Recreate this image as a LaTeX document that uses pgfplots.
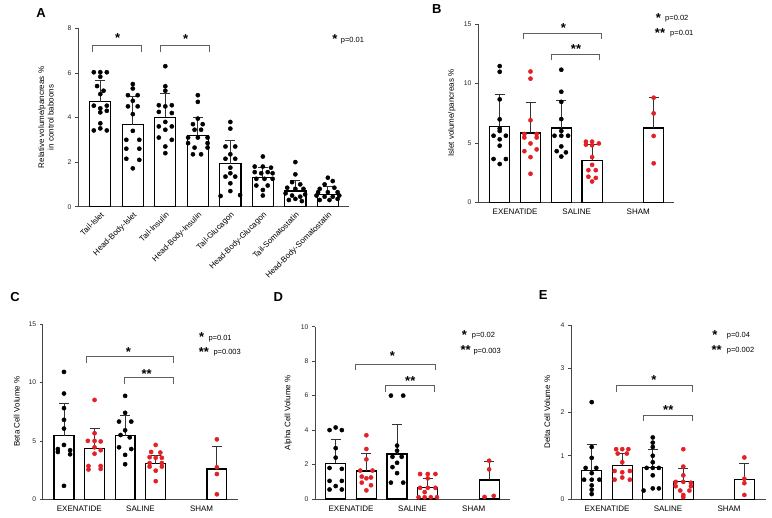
\documentclass[border=0pt]{standalone}
\usepackage{fontspec}
\setmainfont{Liberation Sans}
\usepackage{pgfplots}
\pgfplotsset{compat=1.18}
\definecolor{dotred}{RGB}{226,32,38}
\definecolor{axgray}{RGB}{70,70,70}
\definecolor{brgray}{RGB}{95,95,95}
\pgfplotsset{
  panel/.style={
    scale only axis, clip=false,
    axis lines=left, axis line style={-, line width=0.7pt, draw=axgray},
    ymin=0,
    xtick style={draw=none},
    ytick style={line width=0.7pt, draw=axgray},
    tick align=outside, major tick length=3pt,
    /pgf/number format/assume math mode=true,
    yticklabel style={font=\fontsize{6.8}{7}\selectfont, text=black!85},
    xticklabel style={font=\fontsize{8}{9}\selectfont},
    ylabel style={font=\fontsize{8}{9.5}\selectfont, anchor=center},
  },
  bars/.style={ybar, bar width=0.65, bar shift=0pt, fill=white, draw=black, line width=1.2pt,
    error bars/.cd, y dir=plus, y explicit,
    error bar style={line width=0.8pt, draw=black!80},
    error mark options={line width=0.8pt, mark size=5pt, draw=black!80, rotate=90}},
  bdots/.style={only marks, mark=*, mark size=2.1pt, mark options={fill=black, draw=black}},
  rdots/.style={only marks, mark=*, mark size=2.1pt, mark options={fill=dotred, draw=dotred}},
  grp/.style={xtick={0.5,2.5,4.5}, xticklabels={EXENATIDE,SALINE,SHAM}},
}
\tikzset{
  star/.style={font=\fontsize{13}{13}\selectfont\bfseries, inner sep=0pt, anchor=center, yshift=-2.6pt},
  ptxt/.style={font=\fontsize{7.5}{8}\selectfont, inner sep=0pt, anchor=west},
  brk/.style={draw=brgray, line width=0.7pt},
  letter/.style={font=\fontsize{13}{13}\selectfont\bfseries, inner sep=0pt, anchor=center},
}
\begin{document}
\begin{tikzpicture}[x=1pt,y=1pt]
\path[use as bounding box] (0,0) rectangle (772,518);

% ---------------- Panel A ----------------
\begin{axis}[panel, at={(78pt,311.3pt)}, anchor=south west,
  width=271pt, height=178.4pt, xmin=-0.686, xmax=7.65, ymax=8,
  ytick={0,2,4,6,8}, xtick={0,...,7},
  xticklabels={Tail-Islet,Head-Body-Islet,Tail-Insulin,Head-Body-Insulin,Tail-Glucagon,Head-Body-Glucagon,Tail-Somatostatin,Head-Body-Somatostatin},
  xticklabel style={rotate=45, anchor=north east, inner sep=1pt, font=\fontsize{8}{8}\selectfont},
  ylabel={Relative volume/pancreas \%\\in control baboons},
  ylabel style={align=center, at={(axis description cs:-0.118,0.5)}},
]
\addplot[bars] coordinates {
 (0,4.71) +- (0,0.97)
 (1,3.68) +- (0,1.28)
 (2,4.01) +- (0,1.07)
 (3,3.20) +- (0,0.79)
 (4,1.93) +- (0,1.04)
 (5,1.31) +- (0,0.45)
 (6,0.70) +- (0,0.47)
 (7,0.56) +- (0,0.34)
};
\addplot[bdots] coordinates {
 (-0.2,6.03) (0,6.03) (0.2,6.03) (0,5.83) (-0.1,5.41) (0.1,5.2) (0,5.05) (-0.2,4.53) (0,4.41) (0.2,4.53) (0,4.23) (0.2,4.3) (0,3.74) (0,3.51) (-0.2,3.42) (0.2,3.42)
 (1,5.5) (1,5.3) (0.85,5.0) (1.15,5.0) (1,4.75) (0.85,4.5) (1.15,4.5) (1,4.15) (1,3.4) (0.8,3.0) (1.2,3.0) (0.8,2.6) (1.2,2.6) (0.8,2.15) (1.2,2.1) (1,1.72)
 (2,6.3) (2,5.4) (2,5.2) (1.8,4.55) (2,4.5) (2.2,4.55) (1.8,4.25) (2.2,4.2) (2,3.8) (1.8,3.6) (2.2,3.6) (2,3.45) (1.8,3.1) (2.2,3.0) (2,2.7) (2,2.4)
 (3,5.0) (3,4.7) (3,3.95) (2.85,3.7) (3.15,3.7) (2.9,3.45) (3.1,3.45) (2.7,3.1) (3,3.1) (3.3,3.1) (2.7,2.85) (2.9,2.65) (3.3,2.65) (2.85,2.35) (3.1,2.35) (3.3,2.85)
 (4,3.8) (4,3.5) (3.85,2.7) (4.15,2.7) (4,2.35) (3.85,2.15) (4.15,2.15) (4,1.75) (4,1.5) (3.85,1.35) (4.15,1.35) (4,1.05) (4,0.7) (3.7,0.48) (4.3,0.52)
 (5,2.25) (4.75,1.8) (5,1.8) (5.25,1.75) (4.75,1.55) (4.95,1.5) (5.15,1.55) (5.3,1.5) (4.8,1.25) (5.05,1.25) (5.3,1.25) (4.8,0.95) (5.15,0.95) (5,0.75) (5,0.5)
 (6,2.0) (6,1.45) (5.9,1.1) (6.15,1.0) (5.75,0.85) (6,0.8) (6.25,0.8) (5.7,0.6) (6.3,0.55) (5.9,0.5) (6.15,0.45) (6,0.35) (5.8,0.3) (6.2,0.25)
 (7,1.3) (7.15,1.15) (6.9,1.0) (6.75,0.8) (7.2,0.85) (6.7,0.65) (7,0.65) (7.3,0.65) (6.65,0.5) (6.9,0.45) (7.15,0.45) (7.35,0.5) (6.75,0.3) (7.05,0.3) (7.3,0.35)
};
\end{axis}

% ---------------- Panel B ----------------
\begin{axis}[panel, grp, at={(478pt,315.7pt)}, anchor=south west,
  width=196pt, height=178.3pt, xmin=-0.705, xmax=5.66, ymax=15,
  ytick={0,5,10,15},
  ylabel={Islet volume/pancreas \%},
  ylabel style={at={(axis description cs:-0.134,0.5)}},
]
\addplot[bars] coordinates {
 (0,6.36) +- (0,2.75)
 (1,5.83) +- (0,2.55)
 (2,6.25) +- (0,2.33)
 (3,3.53) +- (0,1.35)
 (5,6.25) +- (0,2.55)
};
\addplot[bdots] coordinates {
 (0,11.46) (0,10.98) (0,8.66) (0,6.98) (0,6.2) (0,6.0) (-0.2,5.6) (0.2,5.6) (0,5.3) (0,4.76) (-0.2,3.64) (0.2,3.64) (0,3.22)
 (2,11.15) (2,9.3) (2,8.45) (2,7.0) (2,6.0) (1.78,5.6) (2,5.6) (2.22,5.6) (2,4.7) (1.85,4.3) (2.15,4.2) (2,3.85)
};
\addplot[rdots] coordinates {
 (1,11.0) (1,10.4) (1,6.9) (0.8,5.75) (1.2,5.75) (0.8,5.45) (1.2,5.45) (1,4.95) (0.8,4.3) (1.2,4.45) (1,3.8) (1,2.4)
 (2.8,5.1) (3,5.1) (3.22,4.95) (2.8,4.85) (3,4.8) (3,3.8) (3,3.15) (2.88,2.7) (3.12,2.7) (2.88,2.15) (3.12,2.05) (3,1.75)
 (5,8.8) (5,7.48) (5,5.58) (5,3.28)
};
\end{axis}

% ---------------- Panel C ----------------
\begin{axis}[panel, grp, at={(42.7pt,18.7pt)}, anchor=south west,
  width=195.3pt, height=175.3pt, xmin=-0.696, xmax=5.69, ymax=15,
  ytick={0,5,10,15},
  ylabel={Beta Cell Volume \%},
  ylabel style={at={(axis description cs:-0.133,0.5)}},
]
\addplot[bars] coordinates {
 (0,5.44) +- (0,2.74)
 (1,4.36) +- (0,1.71)
 (2,5.44) +- (0,1.74)
 (3,3.05) +- (0,0.70)
 (5,2.59) +- (0,1.97)
};
\addplot[bdots] coordinates {
 (0,10.9) (0,9.05) (0,7.8) (0,6.8) (0,6.05) (0,4.65) (-0.2,4.3) (0.2,4.2) (-0.2,4.05) (0.2,3.85) (0,1.15)
 (2,8.85) (2,7.4) (1.8,6.65) (2.2,6.65) (2,5.9) (1.85,5.5) (2.15,5.3) (1.8,4.45) (2.2,4.3) (2,3.8) (2,3.0)
};
\addplot[rdots] coordinates {
 (1,8.5) (1,5.65) (0.78,5.0) (1,5.0) (1.2,4.95) (1,4.45) (1.2,4.2) (1,3.9) (0.8,2.85) (1.2,2.85) (0.8,2.55) (1.2,2.6)
 (3,4.65) (2.85,4.05) (3.15,4.0) (2.8,3.6) (3,3.55) (3.2,3.55) (2.8,3.1) (3.2,3.1) (2.8,2.8) (3.2,2.8) (3,2.45) (3,1.55)
 (5,5.13) (5,2.74) (5,2.16) (5,0.43)
};
\end{axis}

% ---------------- Panel D ----------------
\begin{axis}[panel, grp, at={(315pt,19pt)}, anchor=south west,
  width=195pt, height=172.3pt, xmin=-0.674, xmax=5.68, ymax=10,
  ytick={0,2,4,6,8,10},
  ylabel={Alpha Cell Volume \%},
  ylabel style={at={(axis description cs:-0.137,0.5)}},
]
\addplot[bars] coordinates {
 (0,2.07) +- (0,1.39)
 (1,1.62) +- (0,1.03)
 (2,2.61) +- (0,1.72)
 (3,0.68) +- (0,0.52)
 (5,1.10) +- (0,1.10)
};
\addplot[bdots] coordinates {
 (-0.2,4.0) (0,4.15) (0.2,4.0) (0,2.95) (0,2.4) (-0.2,1.8) (0.2,1.75) (-0.2,1.05) (0.2,1.05) (0,0.75) (-0.2,0.55) (0.2,0.55)
 (1.8,6.0) (2.2,6.0) (2,3.1) (2,2.8) (1.85,2.45) (2.15,2.45) (2,2.1) (1.85,1.85) (2,1.5) (1.8,0.95) (2.2,0.95)
};
\addplot[rdots] coordinates {
 (1,3.7) (1,2.9) (1,2.3) (0.8,1.65) (1.2,1.65) (0.85,1.3) (1.15,1.25) (1,1.2) (0.85,0.95) (1.15,0.8) (1,0.5)
 (2.75,1.45) (3,1.45) (3.25,1.45) (3,1.2) (2.75,0.65) (3,0.65) (3.25,0.65) (2.9,0.4) (2.7,0.1) (2.9,0.1) (3.1,0.1) (3.3,0.1)
 (5,2.22) (5,1.72) (4.85,0.12) (5.15,0.18)
};
\end{axis}

% ---------------- Panel E ----------------
\begin{axis}[panel, grp, at={(571pt,18.7pt)}, anchor=south west,
  width=195pt, height=174.3pt, xmin=-0.679, xmax=5.71, ymax=4,
  ytick={0,1,2,3,4},
  ylabel={Delta Cell Volume \%},
  ylabel style={at={(axis description cs:-0.122,0.5)}},
]
\addplot[bars] coordinates {
 (0,0.665) +- (0,0.585)
 (1,0.78) +- (0,0.27)
 (2,0.73) +- (0,0.42)
 (3,0.40) +- (0,0.30)
 (5,0.46) +- (0,0.37)
};
\addplot[bdots] coordinates {
 (0,2.23) (0,1.2) (0,0.95) (-0.2,0.72) (0.15,0.72) (0,0.6) (-0.25,0.45) (0,0.45) (0.25,0.45) (0,0.32) (0,0.22) (0,0.12)
 (2,1.42) (2,1.3) (2,1.2) (2,1.0) (2,0.85) (1.8,0.72) (2,0.72) (2.2,0.72) (2,0.55) (1.7,0.2) (2,0.25) (2.2,0.25)
};
\addplot[rdots] coordinates {
 (0.8,1.15) (1,1.15) (1.2,1.15) (0.85,1.05) (1.15,1.05) (1,0.85) (0.75,0.65) (1,0.62) (1.25,0.65) (0.75,0.45) (1,0.5) (1.25,0.45)
 (3,1.15) (3,0.75) (3,0.55) (2.75,0.4) (3,0.4) (3.25,0.38) (2.75,0.3) (3.25,0.3) (2.9,0.2) (3.2,0.2) (3,0.1) (3,0.05)
 (5,0.96) (5,0.47) (5,0.37) (5,0.1)
};
\end{axis}

% ---------------- Annotations (pixel coords, y from top) ----------------
\node[letter] at (41,518-12.7) {A};
\node[letter] at (436.7,518-9.3) {B};
\node[letter] at (15,518-297.3) {C};
\node[letter] at (278.3,518-296.7) {D};
\node[letter] at (543.3,518-295) {E};

% A
\draw[brk] (92.7,518-51.7) -- (92.7,518-45.7) -- (141.7,518-45.7) -- (141.7,518-51.7);
\draw[brk] (160.7,518-51.7) -- (160.7,518-45.7) -- (209,518-45.7) -- (209,518-51.7);
\node[star] at (117.7,518-35) {*};
\node[star] at (185.7,518-36.7) {*};
\node[star] at (335,518-36) {*};
\node[ptxt] at (340.7,518-40.7) {p=0.01};

% B
\draw[brk] (523.3,518-39.3) -- (523.3,518-33.3) -- (601.7,518-33.3) -- (601.7,518-39.3);
\draw[brk] (551,518-60) -- (551,518-54) -- (599.3,518-54) -- (599.3,518-60);
\node[star] at (563.3,518-25) {*};
\node[star] at (576,518-46.7) {**};
\node[star] at (658.3,518-15) {*};
\node[ptxt] at (665,518-18.3) {p=0.02};
\node[star] at (660,518-30.7) {**};
\node[ptxt] at (670,518-33.3) {p=0.01};

% C
\draw[brk] (86.7,518-363.3) -- (86.7,518-356.7) -- (173.3,518-356.7) -- (173.3,518-363.3);
\draw[brk] (124.3,518-384) -- (124.3,518-377.3) -- (173.3,518-377.3) -- (173.3,518-384);
\node[star] at (128.3,518-349.3) {*};
\node[star] at (146.7,518-371.7) {**};
\node[star] at (201.7,518-334) {*};
\node[ptxt] at (208.3,518-339) {p=0.01};
\node[star] at (204,518-349.3) {**};
\node[ptxt] at (213.3,518-352.7) {p=0.003};

% D
\draw[brk] (355,518-370) -- (355,518-364) -- (435,518-364) -- (435,518-370);
\draw[brk] (385,518-391.7) -- (385,518-385) -- (434,518-385) -- (434,518-391.7);
\node[star] at (392.3,518-353.3) {*};
\node[star] at (410.3,518-378.3) {**};
\node[star] at (464.3,518-332.3) {*};
\node[ptxt] at (471.7,518-336) {p=0.02};
\node[star] at (465.7,518-347.3) {**};
\node[ptxt] at (473.3,518-351.7) {p=0.003};

% E
\draw[brk] (616,518-392.3) -- (616,518-385.7) -- (692.7,518-385.7) -- (692.7,518-392.3);
\draw[brk] (643.3,518-421) -- (643.3,518-415) -- (692.3,518-415) -- (692.3,518-421);
\node[star] at (654,518-377.3) {*};
\node[star] at (668.3,518-407.3) {**};
\node[star] at (715,518-332.7) {*};
\node[ptxt] at (726.7,518-336) {p=0.04};
\node[star] at (716.7,518-347.3) {**};
\node[ptxt] at (726.7,518-351) {p=0.002};
\end{tikzpicture}
\end{document}
